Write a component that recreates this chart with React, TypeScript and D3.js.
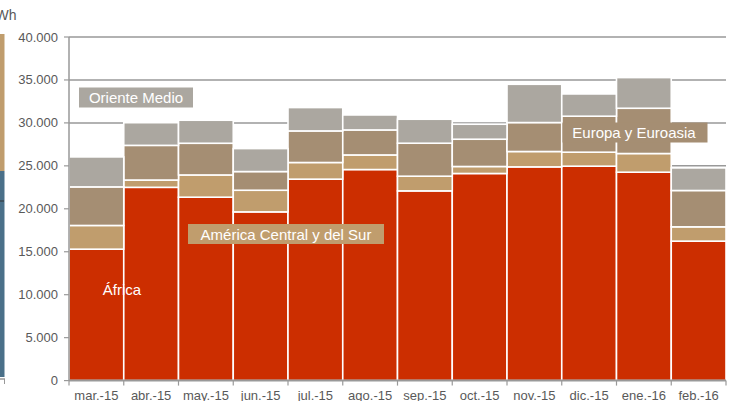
import React from "react";
import * as d3 from "d3";

const months = ["mar.-15", "abr.-15", "may.-15", "jun.-15", "jul.-15", "ago.-15", "sep.-15", "oct.-15", "nov.-15", "dic.-15", "ene.-16", "feb.-16"];
const africa = [15300, 22500, 21350, 19640, 23450, 24570, 22085, 24110, 24880, 24960, 24260, 16235];
const americaCS = [2760, 850, 2590, 2520, 1940, 1700, 1710, 815, 1790, 1630, 2175, 1665];
const europaEuroasia = [4490, 4035, 3690, 2175, 3675, 2910, 3840, 3175, 3370, 4190, 5270, 4230];
const orienteMedio = [3490, 2640, 2680, 2675, 2720, 1745, 2790, 1745, 4455, 2590, 3570, 2630];
const yTicks = [0, 5000, 10000, 15000, 20000, 25000, 30000, 35000, 40000];

const seriesKeys = ["africa", "america", "europa", "oriente"];
const seriesColors: Record<string, string> = {
  africa: "#cc2e00",
  america: "#c09d6d",
  europa: "#a58e73",
  oriente: "#aba7a0",
};

const fmt = (v: number) => (v === 0 ? "0" : d3.format(",")(v).replace(/,/g, "."));

export default function App() {
  const W = 744, H = 401;
  const left = 69, right = 726, top = 37, bottom = 380.6;
  const x = d3.scaleBand<string>().domain(months).range([left, right]).padding(0);
  const y = d3.scaleLinear().domain([0, 40000]).range([bottom, top]);

  const rows = months.map((m, i) => ({
    month: m,
    africa: africa[i],
    america: americaCS[i],
    europa: europaEuroasia[i],
    oriente: orienteMedio[i],
  }));
  const stack = d3.stack<any>().keys(seriesKeys)(rows);
  const font = "'Liberation Sans', Arial, sans-serif";
  const axisColor = "#999999";
  const textColor = "#595959";

  return (
    <svg width={W} height={H} style={{ position: "absolute", left: 0, top: 0, fontFamily: font }}>
      <rect x={0} y={0} width={W} height={H} fill="#ffffff" />
      {/* cropped neighbouring chart on the left */}
      <rect x={0} y={34} width={4.5} height={137} fill="#c09d6d" />
      <rect x={0} y={171} width={4.5} height={206} fill="#4a7089" />
      <line x1={0} x2={4} y1={201} y2={201} stroke="#333" strokeWidth={1} />
      <line x1={0} x2={5} y1={379} y2={379} stroke={axisColor} strokeWidth={1.5} />
      <line x1={4.5} x2={4.5} y1={379} y2={384} stroke={axisColor} strokeWidth={1} />
      <text x={16.5} y={20} fontSize={14} fill={textColor} textAnchor="end">GWh</text>

      {/* gridlines */}
      {yTicks.filter((t) => t > 0).map((t) => (
        <line key={t} x1={left} x2={right} y1={y(t)} y2={y(t)} stroke={axisColor} strokeWidth={1.5} />
      ))}

      {/* bars */}
      {stack.map((s) => (
        <g key={s.key} fill={seriesColors[s.key]}>
          {s.map((d, i) => (
            <rect
              key={i}
              x={x(months[i])!}
              y={y(d[1])}
              width={x.bandwidth()}
              height={y(d[0]) - y(d[1])}
              stroke="#ffffff"
              strokeWidth={1.6}
            />
          ))}
        </g>
      ))}

      {/* y axis */}
      <line x1={left} x2={left} y1={top} y2={bottom} stroke={axisColor} strokeWidth={1.5} />
      {yTicks.map((t) => (
        <g key={t}>
          <line x1={left - 5} x2={left} y1={y(t)} y2={y(t)} stroke={axisColor} strokeWidth={1.2} />
          <text x={58} y={y(t) + 4.5} fontSize={13} fill={textColor} textAnchor="end">{fmt(t)}</text>
        </g>
      ))}

      {/* x axis */}
      <line x1={left} x2={right} y1={bottom} y2={bottom} stroke={axisColor} strokeWidth={2} />
      {[...months.map((m) => x(m)!), right].map((px, i) => (
        <line key={i} x1={px} x2={px} y1={bottom} y2={bottom + 5} stroke={axisColor} strokeWidth={1.2} />
      ))}
      {months.map((m) => (
        <text key={m} x={x(m)! + x.bandwidth() / 2} y={400} fontSize={13} fill={textColor} textAnchor="middle">{m}</text>
      ))}

      {/* series labels */}
      <rect x={79} y={87.5} width={114} height={20} fill={seriesColors.oriente} />
      <text x={136} y={103} fontSize={15} fill="#ffffff" textAnchor="middle">Oriente Medio</text>

      <rect x={188} y={224} width={196} height={20} fill={seriesColors.america} />
      <text x={286} y={239.5} fontSize={15} fill="#ffffff" textAnchor="middle">América Central y del Sur</text>

      <rect x={562.5} y={122.5} width={145} height={20} fill={seriesColors.europa} />
      <text x={634} y={138} fontSize={15} fill="#ffffff" textAnchor="middle">Europa y Euroasia</text>

      <text x={122} y={295} fontSize={15} fill="#ffffff" textAnchor="middle">África</text>
    </svg>
  );
}
